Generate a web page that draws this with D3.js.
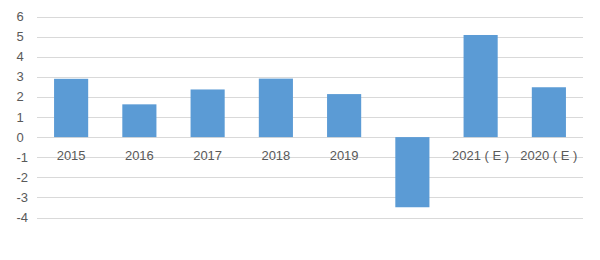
<!DOCTYPE html>
<html>
<head>
<meta charset="utf-8">
<script src="https://cdn.jsdelivr.net/npm/d3@7"></script>
<style>
  body { margin: 0; background: #fff; }
  text { font-family: "Liberation Sans", Arial, sans-serif; }
</style>
</head>
<body>
<svg width="600" height="260"></svg>
<script>
var categories = ["2015", "2016", "2017", "2018", "2019", "", "2021 ( E )", "2020 ( E )"];
var values = [2.9, 1.63, 2.37, 2.91, 2.14, -3.49, 5.08, 2.48];
var yTicks = [-4, -3, -2, -1, 0, 1, 2, 3, 4, 5, 6];

var svg = d3.select("svg");
var plotLeft = 37, plotRight = 583, plotTop = 16.5, plotBottom = 217.5;

var x = d3.scaleBand().domain(d3.range(categories.length))
    .range([plotLeft, plotRight]).paddingInner(0.5).paddingOuter(0.25);
var y = d3.scaleLinear().domain([-4, 6]).range([plotBottom, plotTop]);

// gridlines
svg.append("g").selectAll("line").data(yTicks).enter().append("line")
    .attr("x1", plotLeft).attr("x2", plotRight)
    .attr("y1", function (d) { return Math.round(y(d)) + 0.5; })
    .attr("y2", function (d) { return Math.round(y(d)) + 0.5; })
    .attr("stroke", "#d9d9d9").attr("stroke-width", 1);

// y labels
svg.append("g").selectAll("text").data(yTicks).enter().append("text")
    .attr("x", 16.5)
    .attr("y", function (d) { return y(d) + 4.5; })
    .attr("font-size", 13).attr("fill", "#595959")
    .text(function (d) { return d; });

// bars
svg.append("g").selectAll("rect").data(values).enter().append("rect")
    .attr("x", function (d, i) { return x(i); })
    .attr("width", x.bandwidth())
    .attr("y", function (d) { return y(Math.max(0, d)); })
    .attr("height", function (d) { return Math.abs(y(d) - y(0)); })
    .attr("fill", "#5b9bd5");

// category labels
svg.append("g").selectAll("text").data(categories).enter().append("text")
    .attr("x", function (d, i) { return x(i) + x.bandwidth() / 2; })
    .attr("y", y(0) + 23)
    .attr("text-anchor", "middle")
    .attr("font-size", 13).attr("fill", "#595959")
    .text(function (d) { return d; });
</script>
</body>
</html>
